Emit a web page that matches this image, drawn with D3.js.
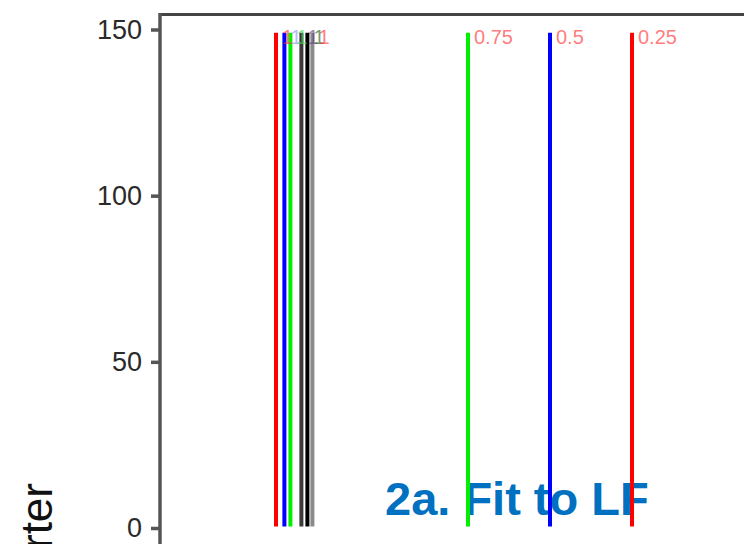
<!DOCTYPE html>
<html>
<head>
<meta charset="utf-8">
<script src="https://cdn.jsdelivr.net/npm/d3@7"></script>
<style>
  html, body { margin: 0; padding: 0; background: #fff; }
  svg { display: block; }
</style>
</head>
<body>
<svg id="chart" width="744" height="544"></svg>
<script>
// Vertical reference lines: position along the fit axis, height, colour and label
const linePositions = [5.8, 6.22, 6.52, 7.07, 7.37, 7.62, 15.4, 19.5, 23.6];
const lineHeights   = [149, 149, 149, 149, 149, 149, 149, 149, 149];
const lineColors    = ["#ff0000", "#0000ff", "#00ee00", "#3a3a3a", "#000000", "#8a8a8a", "#00ee00", "#0000ff", "#ff0000"];
const lineLabels    = ["1", "1", "1", "1", "1", "1", "0.75", "0.5", "0.25"];
const labelColors   = ["#ff3030", "#9090ff", "#40dd40", "#604080", "#206020", "#ff3030", "#ff3030", "#ff3030", "#ff3030"];

// Y axis ticks
const yTicks = [0, 50, 100, 150];
const yTitle = "Quarter";
const panelTitle = "2a. Fit to LF";

const svg = d3.select("#chart");

const x = d3.scaleLinear().domain([0, 30]).range([160, 760]);
const y = d3.scaleLinear().domain([0, 150]).range([528, 29.5]);

// Plot frame: top border and left border
svg.append("line")
  .attr("x1", 160).attr("x2", 760)
  .attr("y1", 14.5).attr("y2", 14.5)
  .attr("stroke", "#444").attr("stroke-width", 3);
svg.append("line")
  .attr("x1", 160).attr("x2", 160)
  .attr("y1", 13).attr("y2", 560)
  .attr("stroke", "#555").attr("stroke-width", 3.5);

// Y axis
const yAxis = svg.append("g")
  .attr("transform", "translate(160,0)")
  .call(d3.axisLeft(y).tickValues(yTicks).tickSize(9).tickPadding(9));
yAxis.select(".domain").remove();
yAxis.selectAll(".tick line").attr("stroke", "#555").attr("stroke-width", 3.5);
yAxis.selectAll(".tick text")
  .attr("fill", "#2a2a2a")
  .style("font-family", "Arial, 'Liberation Sans', sans-serif")
  .style("font-size", "27px");

// Y axis title (runs off the bottom edge)
svg.append("text")
  .attr("transform", "translate(52,483) rotate(-90)")
  .attr("text-anchor", "end")
  .attr("fill", "#111")
  .style("font-family", "Arial, 'Liberation Sans', sans-serif")
  .style("font-size", "44px")
  .text(yTitle);

// Panel title
svg.append("text")
  .attr("x", 385).attr("y", 515)
  .attr("fill", "#0070c0")
  .style("font-family", "Arial, 'Liberation Sans', sans-serif")
  .style("font-weight", "bold")
  .style("font-size", "47px")
  .text(panelTitle);

// Vertical lines
const idx = d3.range(linePositions.length);
svg.append("g").selectAll("line")
  .data(idx)
  .join("line")
  .attr("x1", i => x(linePositions[i]))
  .attr("x2", i => x(linePositions[i]))
  .attr("y1", y(0) - 1.5)
  .attr("y2", i => y(lineHeights[i]))
  .attr("stroke", i => lineColors[i])
  .attr("stroke-width", 4);

// Line labels at the top right of each line
svg.append("g").selectAll("text")
  .data(idx)
  .join("text")
  .attr("x", i => x(linePositions[i]) + 6)
  .attr("y", i => y(lineHeights[i]) + 11)
  .attr("fill", i => labelColors[i])
  .attr("fill-opacity", 0.65)
  .style("font-family", "Arial, 'Liberation Sans', sans-serif")
  .style("font-size", "20px")
  .text(i => lineLabels[i]);
</script>
</body>
</html>
